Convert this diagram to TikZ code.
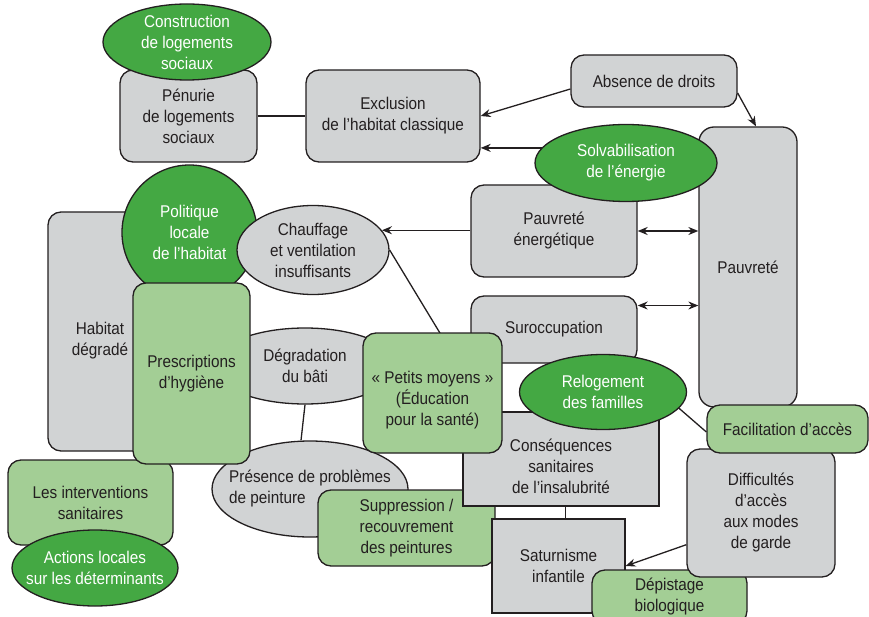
\documentclass[tikz,border=0pt]{standalone}
\usepackage{fontspec}
\setmainfont{Liberation Sans}[FakeStretch=0.9]
\usepackage{tikz}
\usetikzlibrary{arrows.meta,backgrounds,shapes.geometric}

\definecolor{greyfill}{HTML}{D1D3D4}
\definecolor{palegreen}{HTML}{A3CE95}
\definecolor{darkgreen}{HTML}{44A843}
\definecolor{linecol}{HTML}{231F20}

\begin{document}
\begin{tikzpicture}[x=1pt, y=-1pt, line width=1.3pt, >={Stealth[length=10pt,width=8pt]},
  every node/.style={font=\fontsize{17}{21}\selectfont, align=center, inner sep=0pt, draw=linecol, text=linecol},
  link/.style={draw=linecol, line width=1.3pt},
  grey box/.style={rectangle, rounded corners=13pt, fill=greyfill},
  grey rect/.style={rectangle, line width=1.1pt, fill=greyfill},
  pale box/.style={rectangle, rounded corners=13pt, fill=palegreen},
  grey ell/.style={ellipse, inner sep=-12pt, fill=greyfill},
  green ell/.style={ellipse, inner sep=-12pt, fill=darkgreen, text=white}]

\path[use as bounding box] (0,0) rectangle (869,617);

% left part
\node[grey box, minimum width=104, minimum height=239](habitat) at (100,331.5) {\rule{0pt}{31pt}Habitat\\dégradé};
\node[green ell, circle, minimum size=135](politique) at (189.5,232.5) {Politique\\locale\\de l’habitat};
\node[grey ell, minimum width=152, minimum height=89](chauffage) at (313,250) {Chauffage\\et ventilation\\insuffisants};
\node[grey ell, minimum width=184, minimum height=76](degradation) at (305,366) {Dégradation\\du bâti};
\node[grey ell, minimum width=196, minimum height=96, align=left](presence) at (310,489) {Présence de problèmes\\de peinture};
\node[pale box, minimum width=165, minimum height=85](interventions) at (90.5,502.5) {Les interventions\\sanitaires};
\node[green ell, minimum width=166, minimum height=76](actions) at (95,568) {Actions locales\\sur les déterminants};
\node[pale box, minimum width=117, minimum height=181](prescriptions) at (191.5,373.5) {Prescriptions\\d’hygiène};

% top
\node[grey box, minimum width=137, minimum height=92](penurie) at (188.5,116) {Pénurie\\de logements\\sociaux};
\node[green ell, minimum width=168, minimum height=76](construction) at (187,42) {Construction\\de logements\\sociaux};
\node[grey box, minimum width=174, minimum height=92](exclusion) at (393,116) {Exclusion\\de l’habitat classique};
\node[grey box, minimum width=166, minimum height=52](absence) at (654,81) {Absence de droits};

% right part
\node[grey box, minimum width=166, minimum height=92](pauvenergie) at (554,231) {Pauvreté\\énergétique};
\node[grey box, minimum width=98, minimum height=280, rounded corners=15pt](pauvrete) at (748,267) {Pauvreté};
\node[green ell, minimum width=182, minimum height=77](solvab) at (626,163) {Solvabilisation\\de l’énergie};
\node[grey box, minimum width=166, minimum height=67](surocc) at (554,329.5) {Suroccupation};

% bottom
\node[pale box, minimum width=177, minimum height=76](suppression) at (406.5,528) {Suppression /\\recouvrement\\des peintures};
\node[grey rect, minimum width=196, minimum height=94](consequences) at (561,459) {\rule{0pt}{28pt}Conséquences\\sanitaires\\de l’insalubrité};
\node[grey rect, minimum width=133, minimum height=94](saturnisme) at (558.5,566) {Saturnisme\\infantile};
\node[pale box, minimum width=155, minimum height=54](depistage) at (669.5,597) {Dépistage\\biologique};
\node[pale box, minimum width=139, minimum height=120](petits) at (432.5,393) {\rule{0pt}{27pt}« Petits moyens »\\(Éducation\\pour la santé)};
\node[green ell, minimum width=167, minimum height=75](relogement) at (603,392) {Relogement\\des familles};
\node[grey box, minimum width=148, minimum height=128](difficultes) at (761,513) {Difficultés\\d’accès\\aux modes\\de garde};
\node[pale box, minimum width=161, minimum height=48](facilitation) at (787.5,429) {Facilitation d’accès};

\begin{pgfonlayer}{background}
\draw[link] (penurie) -- (exclusion);
\draw[link] (chauffage.east) -- ([xshift=25pt]consequences.north west);
\draw[link] (degradation.south) -- ([xshift=-9pt]presence.north);
\draw[link] (consequences.-85) -- (consequences.-85 |- saturnisme.north);
\draw[link] ([xshift=-10pt]surocc.south east) -- ([yshift=-3pt]facilitation.west);
\draw[link, ->] (pauvrete.west |- exclusion.340) -- (exclusion.340);
\end{pgfonlayer}

\draw[link, ->] ([yshift=-8pt]absence.west) -- (exclusion.east);
\draw[link, ->] ([yshift=-12pt]absence.east) -- ([xshift=8pt]pauvrete.north);
\draw[link, ->] (pauvenergie.west |- chauffage.16) -- (chauffage.16);
\draw[link, <->] (pauvenergie.east) -- (pauvenergie.east -| pauvrete.west);
\draw[link, <->] (surocc.16) -- (surocc.16 -| pauvrete.west);
\draw[link, ->] (difficultes.203) -- (saturnisme.east);

\end{tikzpicture}
\end{document}
